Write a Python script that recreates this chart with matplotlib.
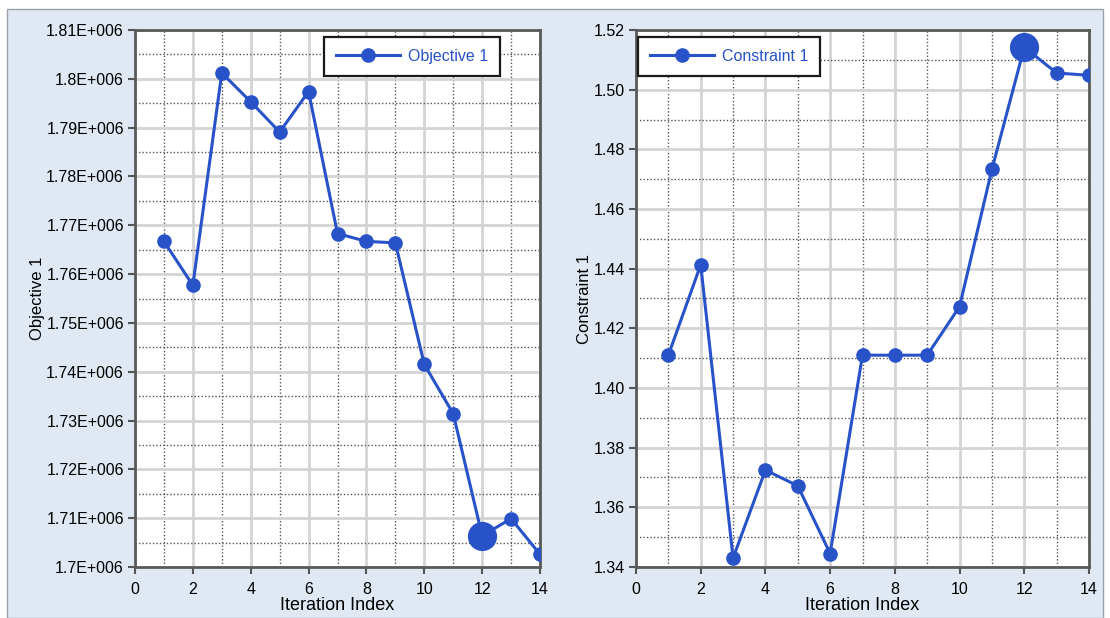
import matplotlib
matplotlib.use("Agg")
from matplotlib import pyplot as plt
from matplotlib.ticker import MultipleLocator, FuncFormatter
from matplotlib.patches import Rectangle

# iteration history
iterations = [1, 2, 3, 4, 5, 6, 7, 8, 9, 10, 11, 12, 13, 14]
objective_1 = [1.7667e6, 1.7577e6, 1.8012e6, 1.7953e6, 1.7891e6, 1.7974e6, 1.7683e6,
               1.7667e6, 1.7664e6, 1.7415e6, 1.7314e6, 1.7064e6, 1.7099e6, 1.7026e6]
constraint_1 = [1.411, 1.4413, 1.343, 1.3725, 1.3672, 1.3445, 1.411,
                1.411, 1.411, 1.4273, 1.4733, 1.5142, 1.5056, 1.5048]
best_iter = 12

BLUE = "#2752c8"
plt.rcParams["font.family"] = ["Liberation Sans", "DejaVu Sans"]

fig = plt.figure(figsize=(11.1, 6.18), dpi=100)
fig.patch.set_facecolor("white")
fig.patches.append(Rectangle((7 / 1110, 0), 1096 / 1110, 1 - 9 / 618, transform=fig.transFigure,
                             facecolor="#dfe8f3", edgecolor="#9aa3ad", linewidth=1, zorder=-10))


def sci_fmt(v, pos):
    m = v / 1e6
    s = ("%.3f" % m).rstrip("0").rstrip(".")
    return s + "E+006"


def draw(ax, y, name, ylim, ystep, fmt, leg_loc, leg_anchor):
    ax.set_facecolor("white")
    ax.plot(iterations, y, color=BLUE, lw=2.2, marker="o", ms=9.5, label=name, zorder=3)
    bi = iterations.index(best_iter)
    ax.plot([iterations[bi]], [y[bi]], "o", color=BLUE, ms=20, zorder=4)
    ax.set_xlim(0, 14)
    ax.set_ylim(*ylim)
    ax.xaxis.set_major_locator(MultipleLocator(2))
    ax.xaxis.set_minor_locator(MultipleLocator(1))
    ax.yaxis.set_major_locator(MultipleLocator(ystep))
    ax.yaxis.set_minor_locator(MultipleLocator(ystep / 2))
    ax.yaxis.set_major_formatter(fmt)
    ax.grid(which="major", color="#d4d4d4", lw=2, ls="-", zorder=0)
    ax.grid(which="minor", color="#555555", lw=1, ls=(0, (1, 1.5)), zorder=0)
    ax.tick_params(which="major", length=5, width=1.5, color="#555555", labelsize=11.5, pad=3)
    ax.tick_params(axis="x", pad=6)
    ax.tick_params(which="minor", length=0)
    for s in ax.spines.values():
        s.set_color("#5a5a5a")
        s.set_linewidth(2)
    ax.set_xlabel("Iteration Index", fontsize=13, labelpad=0)
    ax.set_ylabel(name, fontsize=12, labelpad=1)
    leg = ax.legend(loc=leg_loc, bbox_to_anchor=leg_anchor, fancybox=False, framealpha=1,
                    edgecolor="#1a1a1a", fontsize=11.5, handlelength=4, borderaxespad=0,
                    borderpad=0.75, handletextpad=0.5)
    leg.get_frame().set_linewidth(1.6)
    for t in leg.get_texts():
        t.set_color(BLUE)


ax1 = fig.add_axes([135 / 1110, 1 - 567 / 618, 405 / 1110, 537 / 618])
draw(ax1, objective_1, "Objective 1", (1.70e6, 1.81e6), 0.01e6, FuncFormatter(sci_fmt),
     "upper right", (0.901, 0.987))

ax2 = fig.add_axes([636 / 1110, 1 - 567 / 618, 453 / 1110, 537 / 618])
draw(ax2, constraint_1, "Constraint 1", (1.34, 1.52), 0.02, FuncFormatter(lambda v, p: "%.2f" % v),
     "upper left", (0.005, 0.987))

fig.savefig("out.png", dpi=100, facecolor=fig.get_facecolor())
